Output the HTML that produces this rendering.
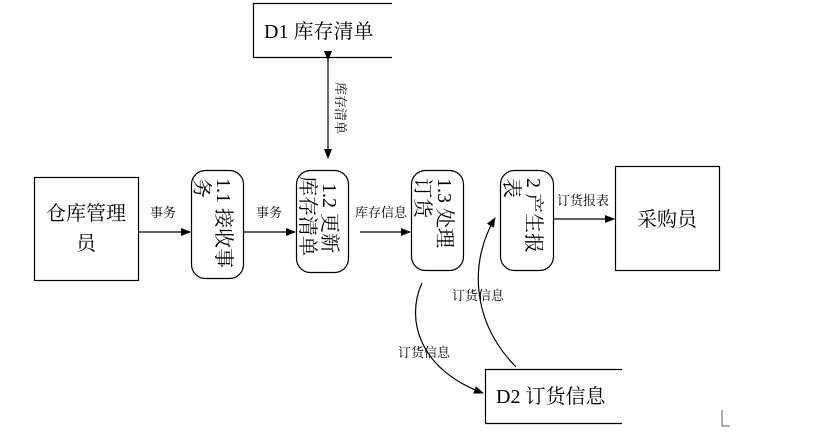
<!DOCTYPE html>
<html><head><meta charset="utf-8"><style>
html,body{margin:0;padding:0;background:#fff;}
svg{display:block;font-family:"Liberation Serif","Noto Serif CJK SC","Noto Sans CJK SC",serif;}
</style></head><body>
<svg width="828" height="438" viewBox="0 0 828 438" xmlns="http://www.w3.org/2000/svg">
<defs>
<marker id="a" markerWidth="10" markerHeight="8" refX="9" refY="4" orient="auto" markerUnits="userSpaceOnUse">
<path d="M0,0 L10,4 L0,8 Z" fill="#000"/></marker>
</defs>
<g fill="none" stroke="#000" stroke-width="1.2">
<rect x="34.5" y="177.5" width="104" height="103"/>
<rect x="615.5" y="166.5" width="104" height="104"/>
<rect x="191.5" y="170.5" width="52" height="108" rx="14"/>
<rect x="296.5" y="170.5" width="52" height="102" rx="14"/>
<rect x="411.5" y="170.5" width="52" height="100" rx="14"/>
<rect x="500.5" y="170.5" width="53" height="100" rx="14"/>
<path d="M392,3.5 H253.5 V57.5 H392"/>
<path d="M622,369.5 H485.5 V423.5 H622"/>
<line x1="139" y1="232" x2="190" y2="232" marker-end="url(#a)"/>
<line x1="244" y1="232" x2="295" y2="232" marker-end="url(#a)"/>
<line x1="360" y1="232" x2="410" y2="232" marker-end="url(#a)"/>
<line x1="554" y1="219" x2="614" y2="219" marker-end="url(#a)"/>
<line x1="328" y1="60" x2="328" y2="158" marker-start="url(#a)" marker-end="url(#a)"/>
<path d="M422,283 C405,320 420,370 483,393" marker-end="url(#a)"/>
<path d="M516,367 C470,320 470,260 495,218" marker-end="url(#a)"/>
</g>
<g font-size="20" fill="#000">
<text x="86" y="220" text-anchor="middle">仓库管理</text>
<text x="86" y="250" text-anchor="middle">员</text>
<text x="667" y="226" text-anchor="middle">采购员</text>
<text x="264" y="38">D1 库存清单</text>
<text x="496" y="403">D2 订货信息</text>
<g transform="translate(217,178) rotate(90)"><text x="0" y="0">1.1 接收事</text><text x="0" y="22">务</text></g>
<g transform="translate(323,183) rotate(90)"><text x="0" y="0">1.2 更新</text></g>
<g transform="translate(323,176) rotate(90)"><text x="0" y="22">库存清单</text></g>
<g transform="translate(438,178) rotate(90)"><text x="0" y="0">1.3 处理</text><text x="0" y="22">订货</text></g>
<g transform="translate(527,178) rotate(90)"><text x="0" y="0">2 产生报</text><text x="0" y="22">表</text></g>
</g>
<g font-size="13" fill="#000">
<text x="150" y="217">事务</text>
<text x="256" y="217">事务</text>
<text x="355" y="217">库存信息</text>
<text x="557" y="205">订货报表</text>
<text x="398" y="357">订货信息</text>
<text x="452" y="300">订货信息</text>
<g transform="translate(336,82) rotate(90)"><text x="0" y="0">库存清单</text></g>
</g>
<path d="M722,410 V426 H730" fill="none" stroke="#555" stroke-width="1"/>
</svg>
</body></html>
